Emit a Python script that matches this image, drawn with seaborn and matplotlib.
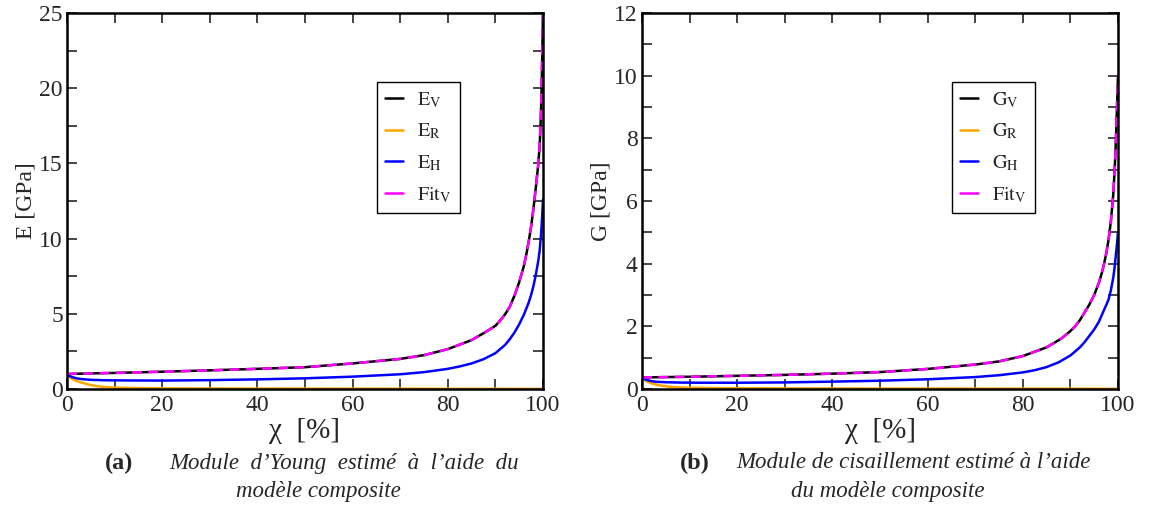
import matplotlib
matplotlib.use('Agg')
import matplotlib.pyplot as plt
import seaborn as sns
from matplotlib.ticker import MultipleLocator

# values
chi_V = [0, 10, 20, 30, 40, 50, 60, 70, 75, 80, 85, 88, 89, 90, 91, 92, 93, 94, 95, 96,
         96.5, 97, 97.5, 98, 98.5, 99, 99.3, 99.5, 99.7, 99.85, 100]
E_V = [1.0, 1.07, 1.15, 1.24, 1.34, 1.45, 1.7, 2.0, 2.25, 2.65, 3.25, 3.8, 4.0, 4.2, 4.55,
       4.95, 5.45, 6.2, 7.1, 8.2, 8.95, 9.8, 10.8, 12.0, 13.4, 14.9, 16.2, 17.6, 19.8, 22.3, 25.0]
G_V = [0.37, 0.39, 0.42, 0.45, 0.49, 0.54, 0.64, 0.78, 0.88, 1.05, 1.33, 1.6, 1.72, 1.85, 2.0,
       2.2, 2.45, 2.7, 3.0, 3.4, 3.65, 3.95, 4.3, 4.75, 5.35, 6.2, 7.0, 7.7, 8.6, 9.3, 10.0]
fit_E = list(E_V)
fit_G = list(G_V)

chi_H = [0, 0.5, 1, 2, 3, 5, 8, 12, 20, 30, 40, 50, 60, 70, 75, 80, 82.5, 85, 87.5, 90, 92,
         93, 94, 95, 96, 97, 97.5, 98, 98.5, 99, 99.3, 99.6, 99.8, 100]
E_H = [1.0, 0.88, 0.8, 0.71, 0.66, 0.61, 0.58, 0.57, 0.56, 0.59, 0.64, 0.71, 0.82, 0.98, 1.12,
       1.34, 1.5, 1.7, 1.98, 2.38, 2.92, 3.3, 3.75, 4.3, 4.95, 5.75, 6.25, 6.85, 7.6, 8.5, 9.2,
       10.3, 11.3, 12.6]
G_H = [0.37, 0.32, 0.29, 0.25, 0.23, 0.215, 0.205, 0.2, 0.2, 0.21, 0.235, 0.265, 0.31, 0.38,
       0.44, 0.53, 0.6, 0.7, 0.85, 1.07, 1.33, 1.5, 1.7, 1.9, 2.15, 2.5, 2.67, 2.85, 3.15, 3.55,
       3.9, 4.35, 4.65, 5.0]

chi_R = [0, 0.3, 0.7, 1, 1.5, 2, 3, 4, 5, 6, 8, 10, 15, 20, 30, 50, 70, 90, 100]
E_R = [1.0, 0.88, 0.76, 0.69, 0.6, 0.53, 0.43, 0.34, 0.26, 0.2, 0.13, 0.09, 0.06, 0.045, 0.035,
       0.025, 0.02, 0.015, 0.01]
G_R = [0.37, 0.32, 0.27, 0.245, 0.21, 0.18, 0.14, 0.11, 0.085, 0.07, 0.05, 0.04, 0.03, 0.025,
       0.02, 0.015, 0.012, 0.01, 0.008]

sns.set_style('ticks')
plt.rcParams['font.family'] = ['Liberation Serif', 'DejaVu Serif']
plt.rcParams['mathtext.fontset'] = 'stix'

fig = plt.figure(figsize=(11.57, 5.14), dpi=100)
axL = fig.add_axes([0.0579, 0.2432, 0.4114, 0.7315])
axR = fig.add_axes([0.5549, 0.2432, 0.4114, 0.7315])


def draw(ax, sym, yv, yr, yh, fit, ymax, major, minor):
    sns.lineplot(x=chi_V, y=yv, ax=ax, color='black', lw=1.8,
                 label=r'$\mathrm{%s}_\mathrm{V}$' % sym)
    sns.lineplot(x=chi_R, y=yr, ax=ax, color='#FFA500', lw=1.8,
                 label=r'$\mathrm{%s}_\mathrm{R}$' % sym)
    sns.lineplot(x=chi_H, y=yh, ax=ax, color='#0000FF', lw=1.8,
                 label=r'$\mathrm{%s}_\mathrm{H}$' % sym)
    sns.lineplot(x=chi_V, y=fit, ax=ax, color='#FF00FF', lw=1.8, linestyle=(0, (4, 2.5)),
                 label=r'$\mathrm{Fit}_\mathrm{V}$')
    ax.set_xlim(0, 100)
    ax.set_ylim(0, ymax)
    ax.xaxis.set_major_locator(MultipleLocator(20))
    ax.xaxis.set_minor_locator(MultipleLocator(10))
    ax.yaxis.set_major_locator(MultipleLocator(major))
    ax.yaxis.set_minor_locator(MultipleLocator(minor))
    ax.tick_params(which='both', direction='in', top=True, right=True, length=7, width=1.2,
                   labelsize=17)
    ax.tick_params(axis='x', pad=4)
    ax.tick_params(axis='y', pad=3)
    for s in ax.spines.values():
        s.set_linewidth(1.8)
        s.set_color('black')
    ax.set_xlabel('χ  [%]', fontsize=21, labelpad=2)
    ax.set_ylabel(sym + ' [GPa]', fontsize=17, labelpad=2)
    leg = ax.legend(loc='upper left', bbox_to_anchor=(0.651, 0.816), borderaxespad=0,
                    fontsize=14.5, handlelength=0.9, handletextpad=0.7, labelspacing=0.6,
                    fancybox=False, framealpha=1, edgecolor='black', borderpad=0.4)
    leg.get_frame().set_linewidth(1.0)
    for h in leg.get_lines():
        h.set_linestyle('-')


draw(axL, 'E', E_V, E_R, E_H, fit_E, 25, 5, 2.5)
draw(axR, 'G', G_V, G_R, G_H, fit_G, 12, 2, 1)

# captions
fig.text(105 / 1157, 1 - 463 / 514, '(a)', fontsize=17.5, fontweight='bold', va='center')
fig.text(344 / 1157, 1 - 463 / 514, 'Module  d’Young  estimé  à  l’aide  du', fontsize=16.5,
         style='italic', va='center', ha='center')
fig.text(318 / 1157, 1 - 492 / 514, 'modèle composite', fontsize=16.5, style='italic',
         va='center', ha='center')
fig.text(680 / 1157, 1 - 463 / 514, '(b)', fontsize=17.5, fontweight='bold', va='center')
fig.text(913 / 1157, 1 - 463 / 514, 'Module de cisaillement estimé à l’aide', fontsize=16.5,
         style='italic', va='center', ha='center')
fig.text(888 / 1157, 1 - 492 / 514, 'du modèle composite', fontsize=16.5, style='italic',
         va='center', ha='center')

fig.savefig('out.png', dpi=100)
